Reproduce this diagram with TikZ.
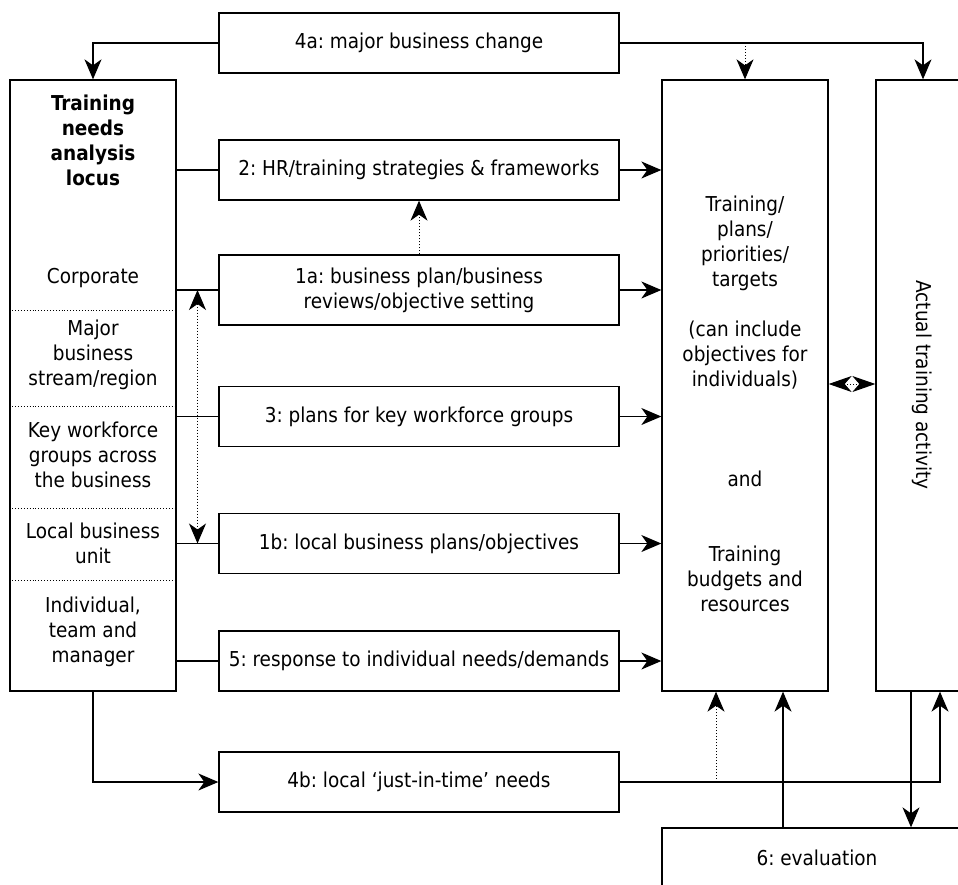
\documentclass[tikz,border=0pt]{standalone}
\usepackage{fontspec}
\setmainfont{DejaVu Sans Condensed}
\usetikzlibrary{arrows.meta,calc}
\frenchspacing
\begin{document}
\begin{tikzpicture}[x=1pt,y=-1pt,
  every node/.style={font=\fontsize{20.5}{25}\selectfont},
  box/.style={draw, line width=1.3pt, align=center, inner sep=0pt, fill=white},
  wbox/.style={box, minimum width=400pt, minimum height=60pt},
  tallbox/.style={box, minimum width=166pt, minimum height=611pt},
  link/.style={line width=1.3pt},
  arr/.style={link, -{Stealth[length=20pt,width=17pt,inset=6pt]}},
  dotarr/.style={line width=1pt, dotted, -{Stealth[length=20pt,width=17pt,inset=6pt]}},
  dotboth/.style={line width=1pt, dotted, {Stealth[length=20pt,width=17pt,inset=6pt]}-{Stealth[length=20pt,width=17pt,inset=6pt]}},
  dotpair/.style={line width=1pt, dotted, {Stealth[length=23pt,width=16pt,inset=7pt]}-{Stealth[length=23pt,width=16pt,inset=7pt]}},
  lbl/.style={align=center, inner sep=0pt},
  sep/.style={line width=0.9pt, dotted}
]
\useasboundingbox (0,0) rectangle (958,884);
\clip (0,0) rectangle (958,884);

% left column
\node[tallbox] (tna) at (93,385.5) {};
\foreach \yy in {310,406,508,580} {
  \draw[sep] (tna.west |- 0,\yy) -- (tna.east |- 0,\yy);
}
\node[lbl, font=\fontsize{20.5}{25}\selectfont\bfseries] (t0) at (93,140) {Training\\needs\\analysis\\locus};
\node[lbl] (t1) at (93,278) {Corporate};
\node[lbl] (t2) at (93,355) {Major\\business\\stream/region};
\node[lbl] (t3) at (93,455) {Key workforce\\groups across\\the business};
\node[lbl] (t4) at (93,543) {Local business\\unit};
\node[lbl] (t5) at (93,632) {Individual,\\team and\\manager};

% middle boxes
\node[wbox] (b4a) at (419,43) {4a: major business change};
\node[wbox] (b2) at (419,170) {2: HR/training strategies \& frameworks};
\node[wbox, minimum height=70pt] (b1a) at (419,290) {1a: business plan/business\\reviews/objective setting};
\node[wbox] (b3) at (419,416.5) {3: plans for key workforce groups};
\node[wbox] (b1b) at (419,543.5) {1b: local business plans/objectives};
\node[wbox] (b5) at (419,661) {5: response to individual needs/demands};
\node[wbox] (b4b) at (419,782) {4b: local ‘just-in-time’ needs};

% right boxes
\node[tallbox] (mid) at (745,385.5) {};
\node[lbl] (midt) at (745,404) {Training/\\plans/\\priorities/\\targets\\[25pt](can include\\objectives for\\individuals)\\[75pt]and\\[50pt]Training\\budgets and\\resources};
\node[box, minimum width=94pt, minimum height=611pt] (act) at (923,385.5) {};
\node[lbl, rotate=-90] (actt) at (922,385) {Actual training activity};
\node[box, minimum width=310pt, minimum height=60pt] (eval) at (817,858) {6: evaluation};

% connectors
\foreach \b in {b2,b1a,b3,b1b,b5} {
  \draw[link] (tna.east |- \b.west) -- (\b.west);
  \draw[arr] (\b.east) -- (mid.west |- \b.east);
}
\draw[arr] (b4a.west) -| (tna.north);
\draw[arr] (b4a.east) -| (act.north);
\draw[dotarr] (mid.north |- b4a.east) -- (mid.north);
\draw[dotarr] (b1a.north) -- (b2.south);
\coordinate (u1) at ($(tna.east |- b1a.west)!0.5!(b1a.west)$);
\coordinate (u2) at ($(tna.east |- b1b.west)!0.5!(b1b.west)$);
\draw[dotboth] (u1) -- (u2);
\coordinate (p1) at (mid.east |- 0,384);
\coordinate (p2) at (act.west |- 0,384);
\draw[dotpair] (p1) -- (p2);

\draw[arr] (tna.south) |- (b4b.west);
\coordinate (r1) at ([xshift=17pt]act.south);
\draw[arr] (b4b.east) -| (r1);
\coordinate (r2) at ([xshift=-12pt]act.south);
\draw[arr] (r2) -- (r2 |- eval.north);
\coordinate (m1) at ([xshift=38pt]mid.south);
\draw[arr] (m1 |- eval.north) -- (m1);
\coordinate (m2) at ([xshift=-29pt]mid.south);
\draw[dotarr] (m2 |- b4b.east) -- (m2);
\end{tikzpicture}
\end{document}
